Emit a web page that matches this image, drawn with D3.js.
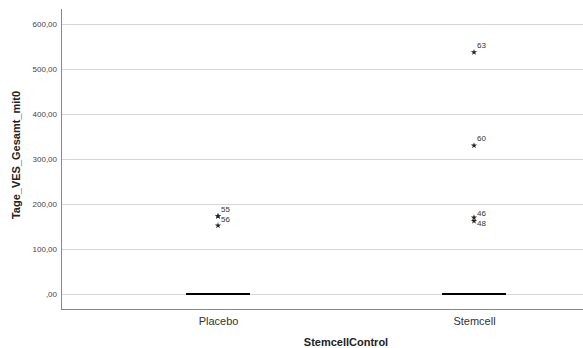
<!DOCTYPE html>
<html><head><meta charset="utf-8">
<script src="https://cdn.jsdelivr.net/npm/d3@7"></script>
<style>body{margin:0;background:#fff}svg{display:block;font-family:"Liberation Sans",Arial,sans-serif}</style>
</head><body>
<svg id="c" width="583" height="348"></svg>
<script>
const categories = ["Placebo", "Stemcell"];
const medians = [0, 0];
const placeboOutliers = [173, 173, 152];
const placeboLabels = ["55", "56", ""];
const stemcellOutliers = [537, 330, 170, 162];
const stemcellLabels = ["63", "60", "46", "48"];
const yTicks = [0, 100, 200, 300, 400, 500, 600];
const yTitle = "Tage_VES_Gesamt_mit0";
const xTitle = "StemcellControl";

const svg = d3.select("#c");
const pL = 61, pR = 583, pT = 9, pB = 309;
const y = d3.scaleLinear().domain([0, 600]).range([294, 24]);
const x = d3.scalePoint().domain(categories).range([218, 474]);
const fmt = v => v === 0 ? ",00" : d3.format(".2f")(v).replace(".", ",");

// gridlines
svg.append("g").selectAll("line").data(yTicks).join("line")
  .attr("x1", pL).attr("x2", pR).attr("y1", d => y(d) + 0.5).attr("y2", d => y(d) + 0.5)
  .attr("stroke", "#d6d6d6").attr("stroke-width", 1);

// y axis
const ya = svg.append("g").attr("transform", `translate(${pL},0)`)
  .call(d3.axisLeft(y).tickValues(yTicks).tickFormat(fmt).tickSize(0).tickPadding(4));
ya.select(".domain").remove();
ya.selectAll("text").attr("font-size", 8).attr("fill", "#444").attr("font-family", "Liberation Sans, Arial");
svg.append("line").attr("x1", pL + 0.5).attr("x2", pL + 0.5).attr("y1", pT).attr("y2", pB)
  .attr("stroke", "#888").attr("stroke-width", 1);
svg.append("line").attr("x1", pL).attr("x2", pR).attr("y1", pB + 0.5).attr("y2", pB + 0.5)
  .attr("stroke", "#888").attr("stroke-width", 1);

// x axis labels
const xa = svg.append("g").attr("transform", `translate(0,${pB})`)
  .call(d3.axisBottom(x).tickSize(0).tickPadding(8));
xa.select(".domain").remove();
xa.selectAll("text").attr("font-size", 11).attr("fill", "#333").attr("font-family", "Liberation Sans, Arial");

// medians
svg.append("g").selectAll("line").data(categories).join("line")
  .attr("x1", d => x(d) - 32).attr("x2", d => x(d) + 32)
  .attr("y1", (d, i) => y(medians[i])).attr("y2", (d, i) => y(medians[i]))
  .attr("stroke", "#000").attr("stroke-width", 2);

// outliers
const groups = [[placeboOutliers, placeboLabels], [stemcellOutliers, stemcellLabels]];
const star = d3.symbol().type(d3.symbolStar).size(12);
groups.forEach(([vals, labs], gi) => {
  const cx = x(categories[gi]);
  const g = svg.append("g");
  g.selectAll("path").data(vals).join("path")
    .attr("d", star).attr("transform", d => `translate(${cx},${y(d)})`).attr("fill", "#222");
  let prev = -Infinity;
  vals.forEach((v, i) => {
    if (!labs[i]) return;
    const near = vals.some((w, j) => j !== i && labs[j] && w !== v && Math.abs(y(w) - y(v)) < 10);
    let ly = Math.max(y(v) - (near ? 4 : 7), prev + 10);
    prev = ly;
    g.append("text").attr("x", cx + 3).attr("y", ly).attr("dy", "0.35em")
      .attr("font-size", 8).attr("fill", "#333").text(labs[i]);
  });
});

// titles
svg.append("text").attr("transform", `translate(20,155) rotate(-90)`)
  .attr("text-anchor", "middle").attr("font-size", 11).attr("font-weight", "bold").attr("fill", "#222").text(yTitle);
svg.append("text").attr("x", 346).attr("y", 346).attr("text-anchor", "middle")
  .attr("font-size", 11).attr("font-weight", "bold").attr("fill", "#222").text(xTitle);
</script>
</body></html>
